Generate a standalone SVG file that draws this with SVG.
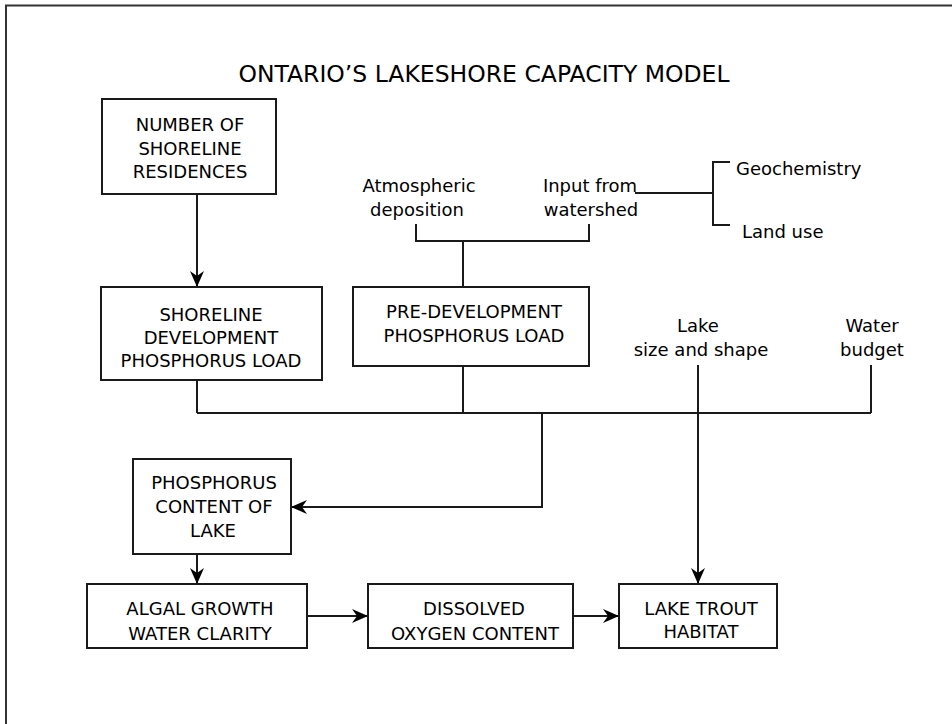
<svg xmlns="http://www.w3.org/2000/svg" width="952" height="724" viewBox="0 0 952 724">
  <style>
    .box { fill: #ffffff; stroke: #1a1a1a; stroke-width: 2; }
    .lbl { font-family: "Comic Sans MS", "DejaVu Sans", sans-serif; font-size: 18px; fill: #000; text-anchor: middle; }
    .title { font-family: "Comic Sans MS", "DejaVu Sans", sans-serif; font-size: 23.5px; fill: #000; text-anchor: middle; }
    .wire { fill: none; stroke: #1a1a1a; stroke-width: 2; }
    .arrow { marker-end: url(#head); }
  </style>
  <defs>
    <marker id="head" viewBox="0 0 16 14" refX="16" refY="7" markerWidth="16" markerHeight="14" markerUnits="userSpaceOnUse" orient="auto">
      <path d="M0,0 L16,7 L0,14 L5,7 Z" fill="#000"/>
    </marker>
  </defs>

  <rect width="952" height="724" fill="#ffffff"/>
  <!-- page frame -->
  <path d="M6,724 V5.5 H952" fill="none" stroke="#333" stroke-width="2"/>

  <text class="title" x="484" y="82">ONTARIO’S LAKESHORE CAPACITY MODEL</text>

  <g id="connectors">
    <path class="wire arrow" d="M197,194 V287"/>
    <!-- atmospheric / watershed bracket -->
    <path class="wire" d="M416,224 V241 H589 V224"/>
    <path class="wire" d="M463,241 V287"/>
    <!-- watershed sources -->
    <path class="wire" d="M635,193 H713"/>
    <path class="wire" d="M730,162 H713 V225 H730"/>
    <!-- collector bus -->
    <path class="wire" d="M197,380 V413"/>
    <path class="wire" d="M463,366 V413"/>
    <path class="wire" d="M871,365 V413"/>
    <path class="wire" d="M197,413 H871"/>
    <path class="wire arrow" d="M542,413 V507 H291"/>
    <path class="wire arrow" d="M698,365 V584"/>
    <path class="wire arrow" d="M197,554 V584"/>
    <path class="wire arrow" d="M307,616 H368"/>
    <path class="wire arrow" d="M573,616 H619"/>
  </g>

  <g id="residences">
    <rect class="box" x="102" y="99" width="174" height="95"/>
    <text class="lbl" x="190" y="131">NUMBER OF</text>
    <text class="lbl" x="190" y="155">SHORELINE</text>
    <text class="lbl" x="190" y="178">RESIDENCES</text>
  </g>

  <g id="shoreline-load">
    <rect class="box" x="101" y="287" width="221" height="93"/>
    <text class="lbl" x="211" y="321">SHORELINE</text>
    <text class="lbl" x="211" y="344">DEVELOPMENT</text>
    <text class="lbl" x="211" y="367">PHOSPHORUS LOAD</text>
  </g>

  <g id="predevelopment-load">
    <rect class="box" x="353" y="287" width="236" height="79"/>
    <text class="lbl" x="474" y="318">PRE-DEVELOPMENT</text>
    <text class="lbl" x="474" y="342">PHOSPHORUS LOAD</text>
  </g>

  <g id="atmospheric">
    <text class="lbl" x="419" y="192">Atmospheric</text>
    <text class="lbl" x="417" y="216">deposition</text>
  </g>

  <g id="watershed">
    <text class="lbl" x="590" y="192">Input from</text>
    <text class="lbl" x="591" y="216">watershed</text>
  </g>

  <g id="geochemistry">
    <text class="lbl" x="736" y="175" text-anchor="start" style="text-anchor:start">Geochemistry</text>
  </g>

  <g id="land-use">
    <text class="lbl" x="742" y="238" style="text-anchor:start">Land use</text>
  </g>

  <g id="lake-size">
    <text class="lbl" x="698" y="332">Lake</text>
    <text class="lbl" x="701" y="356">size and shape</text>
  </g>

  <g id="water-budget">
    <text class="lbl" x="872" y="332">Water</text>
    <text class="lbl" x="872" y="356">budget</text>
  </g>

  <g id="phosphorus-content">
    <rect class="box" x="133" y="459" width="158" height="95"/>
    <text class="lbl" x="214" y="489">PHOSPHORUS</text>
    <text class="lbl" x="214" y="513">CONTENT OF</text>
    <text class="lbl" x="213" y="537">LAKE</text>
  </g>

  <g id="algal-growth">
    <rect class="box" x="87" y="584" width="220" height="64"/>
    <text class="lbl" x="200" y="615">ALGAL GROWTH</text>
    <text class="lbl" x="200" y="640">WATER CLARITY</text>
  </g>

  <g id="dissolved-oxygen">
    <rect class="box" x="368" y="584" width="205" height="64"/>
    <text class="lbl" x="474" y="615">DISSOLVED</text>
    <text class="lbl" x="475" y="640">OXYGEN CONTENT</text>
  </g>

  <g id="lake-trout">
    <rect class="box" x="619" y="584" width="158" height="64"/>
    <text class="lbl" x="701" y="615">LAKE TROUT</text>
    <text class="lbl" x="701" y="638">HABITAT</text>
  </g>
</svg>
